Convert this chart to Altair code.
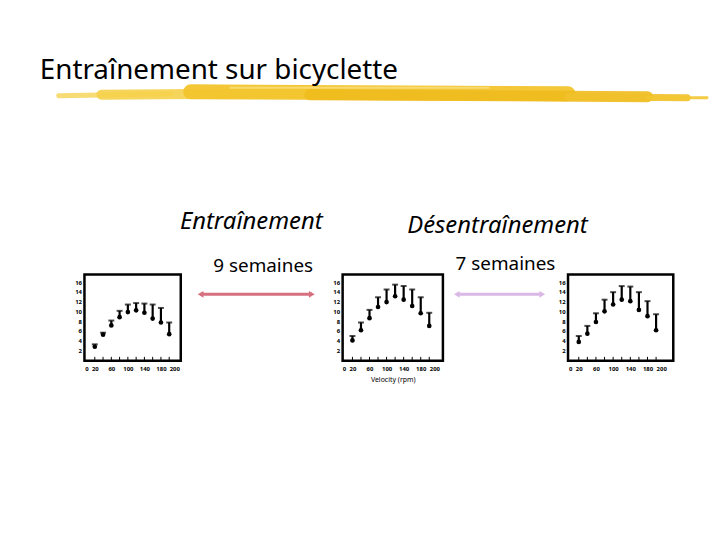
import altair as alt
import pandas as pd

# velocity (rpm) of each measured point
velocity = [20, 40, 60, 80, 100, 120, 140, 160, 180, 200]

# before training
base_lo = [2.7, 5.2, 7.1, 8.8, 9.85, 10.2, 9.7, 8.5, 7.7, 5.3]
base_hi = [3.2, 5.6, 8.1, 10.1, 11.4, 11.7, 11.6, 11.4, 10.7, 7.7]
# after 9 weeks of training
train_lo = [4.0, 6.1, 8.6, 10.9, 11.9, 13.1, 12.4, 11.1, 9.6, 7.0]
train_hi = [4.9, 7.7, 10.3, 12.9, 14.5, 15.5, 15.2, 14.5, 12.9, 9.7]
# after 7 weeks of detraining
detrain_lo = [3.7, 5.4, 7.8, 10.0, 11.4, 12.4, 12.1, 10.3, 9.0, 6.1]
detrain_hi = [4.9, 7.0, 9.6, 12.4, 13.95, 15.2, 15.1, 13.95, 12.1, 9.4]

x_labels = [0, 20, 60, 100, 140, 180, 200]
y_labels = [2, 4, 6, 8, 10, 12, 14, 16]

FONT = 'Noto Sans'
H = 87


def small_chart(lo, hi, width, xdom, xtitle=''):
    d = pd.DataFrame({'v': velocity, 'lo': lo, 'hi': hi})
    x = alt.X('v:Q', scale=alt.Scale(domain=xdom, nice=False, zero=False),
              axis=alt.Axis(values=x_labels, title=xtitle, ticks=False, domain=False, grid=False,
                            labelFontSize=6, labelFontWeight='bold', labelPadding=5,
                            labelOverlap=False, labelFlush=False,
                            labelAlign=alt.ExprRef(expr="datum.value == 200 ? 'left' : 'center'"),
                            titleFontSize=7, titleFontWeight='normal', titlePadding=4,
                            titleFont=FONT, labelFont=FONT))
    y_scale = alt.Scale(domain=[-0.2, 17.6], nice=False, zero=False)
    y_axis = alt.Axis(values=y_labels, title='', ticks=False, domain=False, grid=False,
                      labelOverlap=False, labelFontSize=6, labelFontWeight='bold',
                      labelPadding=3, labelFont=FONT)
    base = alt.Chart(d)
    bars = base.mark_rule(color='black', strokeWidth=2.2).encode(
        x=x, y=alt.Y('lo:Q', scale=y_scale, axis=y_axis), y2='hi:Q')
    caps = base.mark_tick(color='black', orient='horizontal', size=6, thickness=2).encode(
        x=x, y=alt.Y('hi:Q', scale=y_scale, axis=y_axis))
    dots = base.mark_point(color='black', filled=True, size=22, opacity=1).encode(
        x=x, y=alt.Y('lo:Q', scale=y_scale, axis=y_axis))
    ticks = base.mark_rule(color='black', strokeWidth=1).encode(
        x=x, y=alt.value(H - 4), y2=alt.value(H))
    return alt.layer(bars, caps, dots, ticks).properties(
        width=width, height=H,
        view=alt.ViewBackground(stroke='black', strokeWidth=2.5))


def spacer(width, x1=None, x2=None, color=None):
    d = pd.DataFrame({'a': [0]})
    if x1 is None:
        return alt.Chart(d).mark_point(opacity=0).encode(
            x=alt.value(0), y=alt.value(0)).properties(width=width, height=H)
    line = alt.Chart(d).mark_rule(color=color, strokeWidth=3).encode(
        x=alt.value(x1 + 3), x2=alt.value(x2 - 3), y=alt.value(20))
    left = alt.Chart(d).mark_point(shape='triangle-left', filled=True, size=45,
                                    color=color, opacity=1).encode(x=alt.value(x1 + 3), y=alt.value(20))
    right = alt.Chart(d).mark_point(shape='triangle-right', filled=True, size=45,
                                     color=color, opacity=1).encode(x=alt.value(x2 - 3), y=alt.value(20))
    return alt.layer(line, left, right).properties(width=width, height=H)


# slide header, brush stroke and labels
one = pd.DataFrame({'a': [0]})
top_base = alt.Chart(one)


def txt(s, x, y, size, align='center', style='normal'):
    return top_base.mark_text(text=s, font=FONT, fontSize=size, align=align, fontStyle=style,
                              baseline='alphabetic', color='black').encode(
        x=alt.value(x), y=alt.value(y))


def stroke(x1, x2, y1, y2, w, color, op=0.9):
    return top_base.mark_rule(color=color, strokeWidth=w, strokeCap='round', opacity=op).encode(
        x=alt.value(x1), x2=alt.value(x2), y=alt.value(y1), y2=alt.value(y2))


brush = [
    stroke(47, 160, 86, 84, 5, '#F6D866'),
    stroke(90, 330, 85, 83, 10, '#F5D04A'),
    stroke(180, 560, 82, 84, 15, '#F2C42C', 0.95),
    stroke(300, 640, 85, 87, 11, '#EFBB1E'),
    stroke(560, 680, 87, 88, 7, '#F1C12A'),
    stroke(640, 700, 88, 88, 3, '#F2C630'),
    stroke(220, 480, 78, 78, 2, '#F8DE80', 0.8),
]

top = alt.layer(
    *brush,
    txt('Entraînement sur bicyclette', 28, 69, 28, align='left'),
    txt('Entraînement', 241, 220, 24, style='italic'),
    txt('Désentraînement', 489, 224, 24, style='italic'),
    txt('9 semaines', 253, 264, 19),
    txt('7 semaines', 497, 262, 19),
).properties(width=704, height=266)

row = alt.hconcat(
    spacer(73),
    small_chart(base_lo, base_hi, 97, [-5, 228]),
    spacer(163, 17, 135, '#D6707F'),
    small_chart(train_lo, train_hi, 101, [-3, 232], 'Velocity (rpm)'),
    spacer(126, 11, 103, '#D9B8E6'),
    small_chart(detrain_lo, detrain_hi, 106, [-5, 240]),
    spacing=0, bounds='flush')

chart = alt.vconcat(top, row, spacing=0, bounds='flush').properties(
    padding=0, background='white'
).configure_view(stroke='transparent')

chart.save("out.html", embed_options={"renderer": "svg", "actions": False})
